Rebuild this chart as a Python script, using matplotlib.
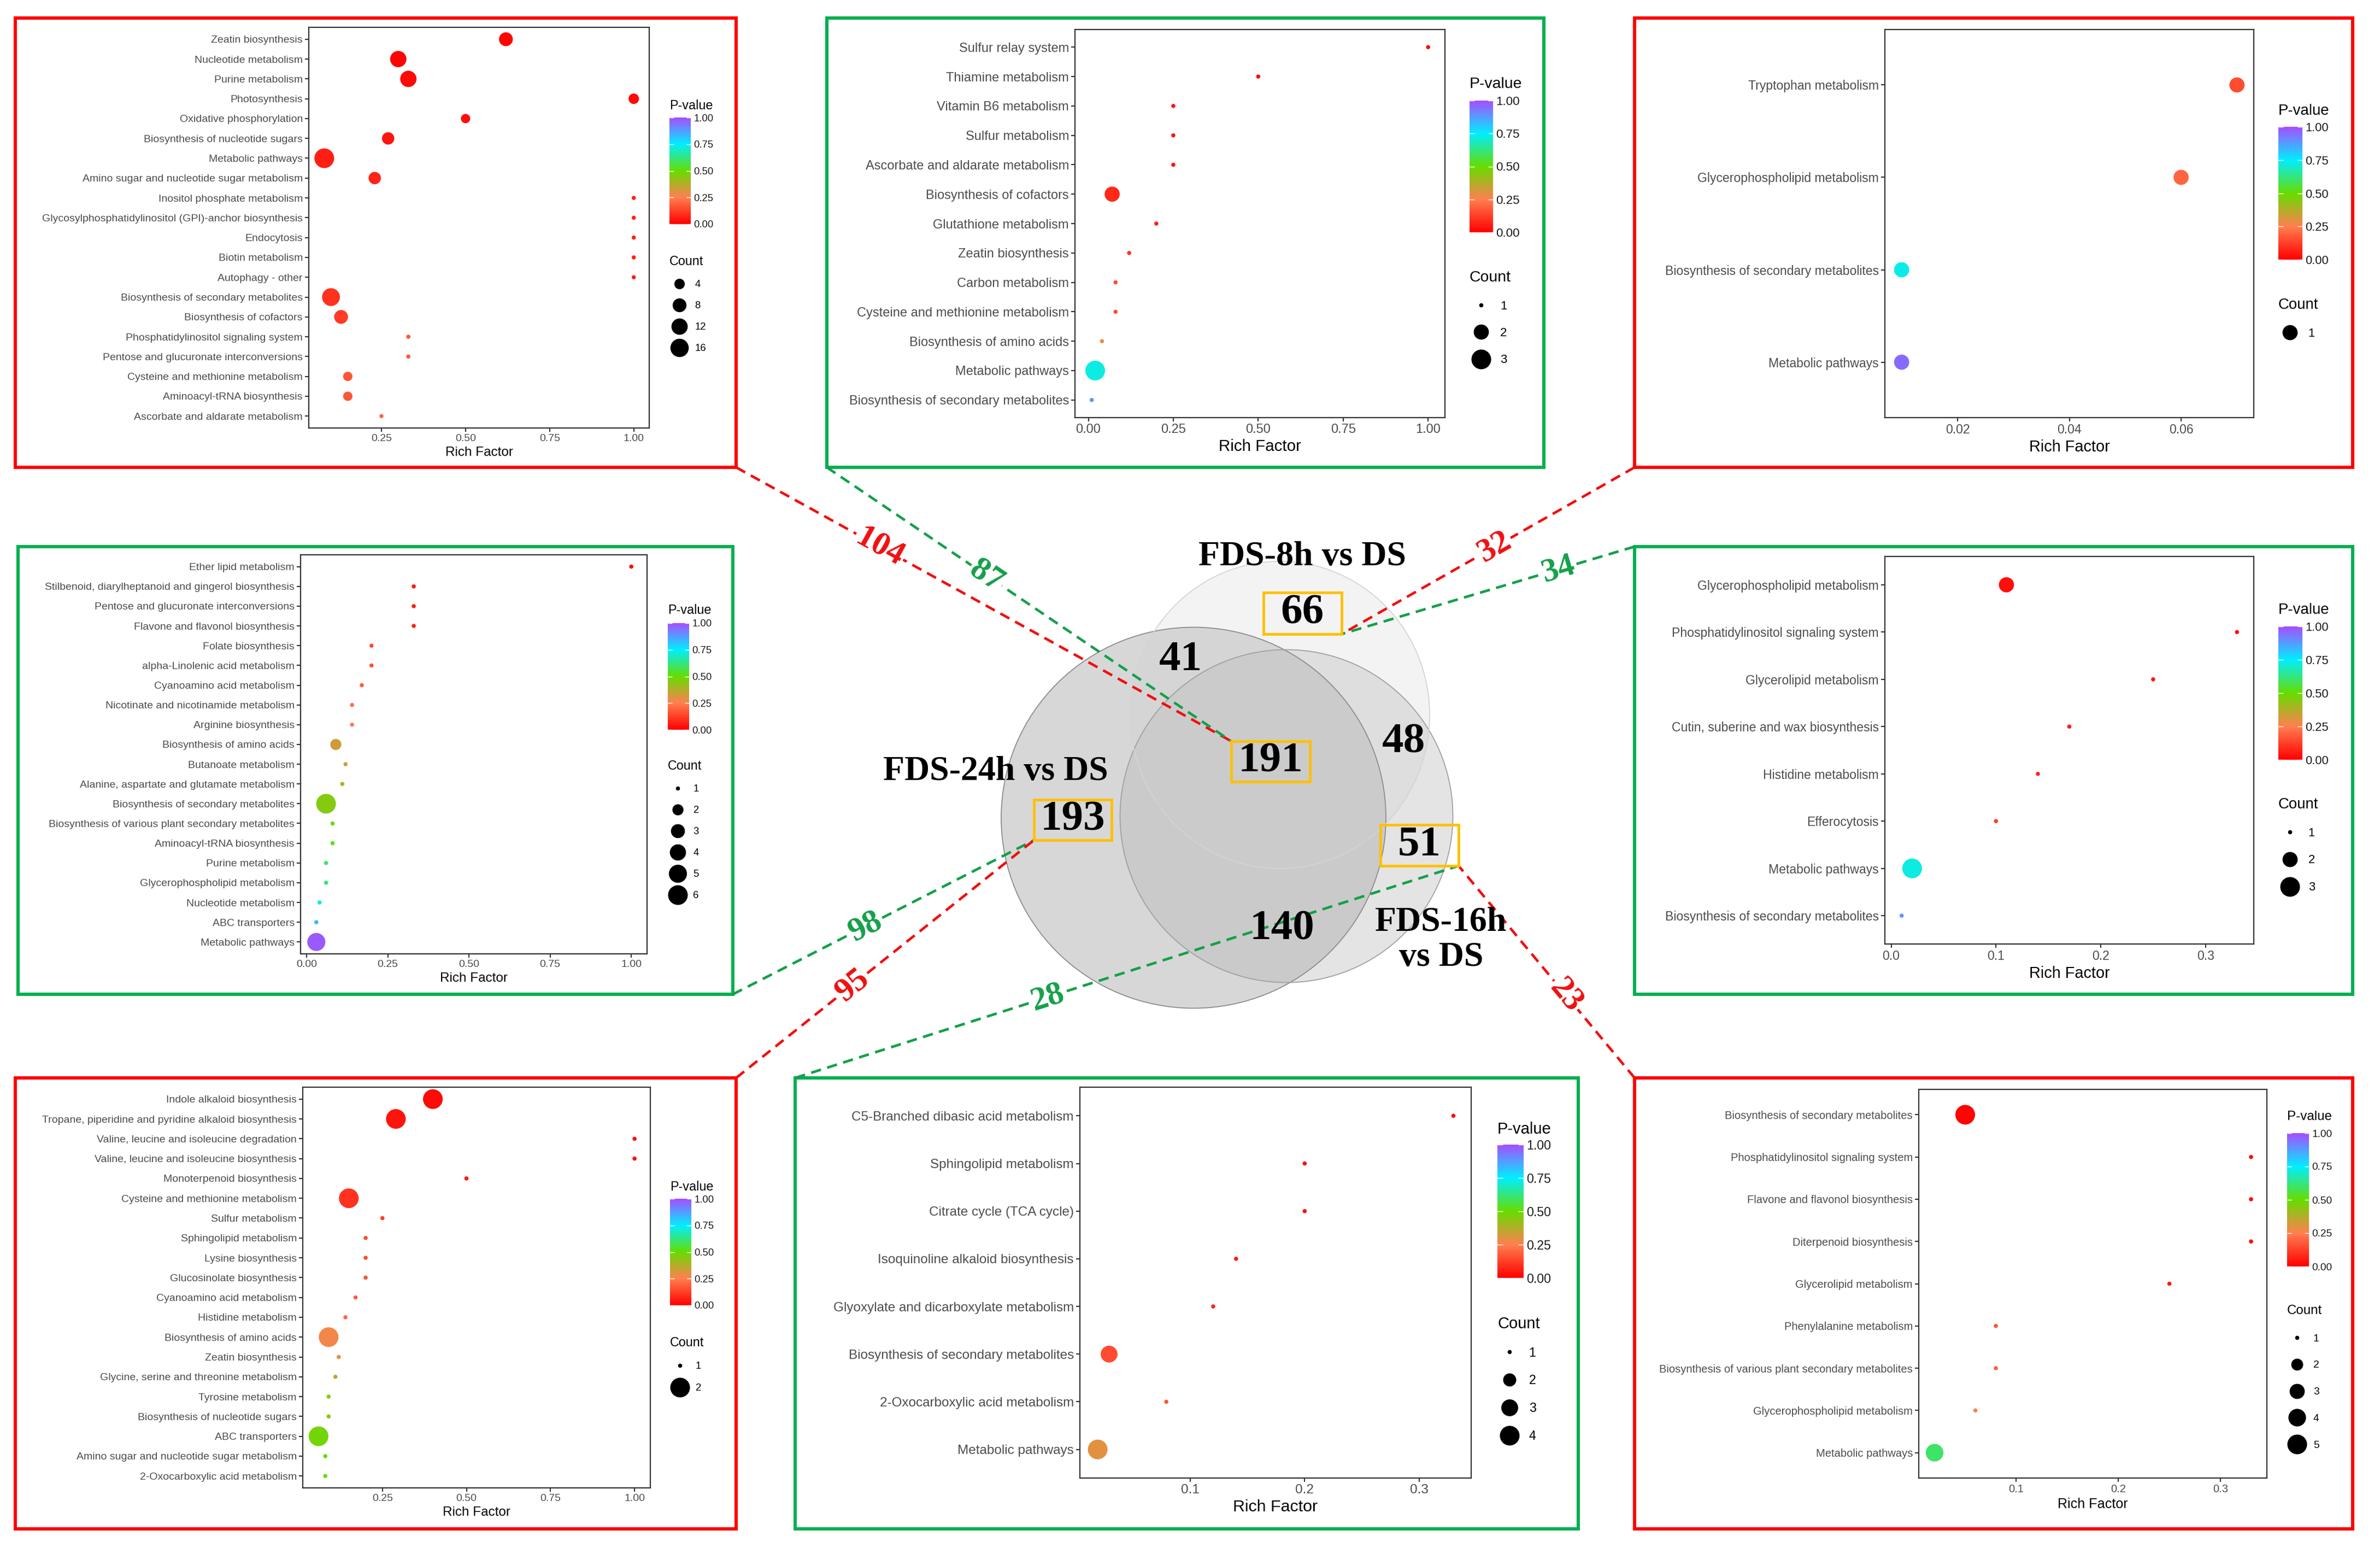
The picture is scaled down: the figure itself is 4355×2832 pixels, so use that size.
import numpy as np
import matplotlib
matplotlib.use("Agg")
import matplotlib.pyplot as plt
from matplotlib.cm import ScalarMappable
from matplotlib.colors import LinearSegmentedColormap, Normalize
from matplotlib.lines import Line2D
from matplotlib.patches import Ellipse, Rectangle
from matplotlib.ticker import FormatStrFormatter, MultipleLocator

W, H, DPI = 4355, 2832, 100
RED, GREEN, GOLD = "#ff0000", "#00b050", "#ffc000"
LINK_RED, LINK_GREEN = "#f01010", "#15a04a"

plt.rcParams["font.family"] = ["Liberation Sans", "DejaVu Sans"]

# ---------------- data ----------------
p1_terms = ["Zeatin biosynthesis", "Nucleotide metabolism", "Purine metabolism", "Photosynthesis",
            "Oxidative phosphorylation", "Biosynthesis of nucleotide sugars", "Metabolic pathways",
            "Amino sugar and nucleotide sugar metabolism", "Inositol phosphate metabolism",
            "Glycosylphosphatidylinositol (GPI)-anchor biosynthesis", "Endocytosis", "Biotin metabolism",
            "Autophagy - other", "Biosynthesis of secondary metabolites", "Biosynthesis of cofactors",
            "Phosphatidylinositol signaling system", "Pentose and glucuronate interconversions",
            "Cysteine and methionine metabolism", "Aminoacyl-tRNA biosynthesis",
            "Ascorbate and aldarate metabolism"]
p1_rich = [0.62, 0.30, 0.33, 1.0, 0.50, 0.27, 0.08, 0.23, 1.0, 1.0, 1.0, 1.0, 1.0, 0.10, 0.13,
           0.33, 0.33, 0.15, 0.15, 0.25]
p1_count = [8, 12, 12, 4, 3, 6, 19, 6, 1, 1, 1, 1, 1, 15, 8, 1, 1, 3, 3, 1]
p1_pval = [0.01, 0.01, 0.02, 0.02, 0.03, 0.04, 0.06, 0.07, 0.07, 0.07, 0.07, 0.07, 0.07, 0.10,
           0.12, 0.17, 0.17, 0.17, 0.17, 0.20]
p1_breaks = [4, 8, 12, 16]

p2_terms = ["Sulfur relay system", "Thiamine metabolism", "Vitamin B6 metabolism", "Sulfur metabolism",
            "Ascorbate and aldarate metabolism", "Biosynthesis of cofactors", "Glutathione metabolism",
            "Zeatin biosynthesis", "Carbon metabolism", "Cysteine and methionine metabolism",
            "Biosynthesis of amino acids", "Metabolic pathways", "Biosynthesis of secondary metabolites"]
p2_rich = [1.0, 0.50, 0.25, 0.25, 0.25, 0.07, 0.20, 0.12, 0.08, 0.08, 0.04, 0.02, 0.01]
p2_count = [1, 1, 1, 1, 1, 2, 1, 1, 1, 1, 1, 3, 1]
p2_pval = [0.02, 0.03, 0.04, 0.04, 0.04, 0.08, 0.06, 0.10, 0.15, 0.15, 0.30, 0.72, 0.88]
p2_breaks = [1, 2, 3]

p3_terms = ["Tryptophan metabolism", "Glycerophospholipid metabolism",
            "Biosynthesis of secondary metabolites", "Metabolic pathways"]
p3_rich = [0.070, 0.060, 0.010, 0.010]
p3_count = [1, 1, 1, 1]
p3_pval = [0.15, 0.20, 0.73, 0.95]
p3_breaks = [1]

p4_terms = ["Ether lipid metabolism", "Stilbenoid, diarylheptanoid and gingerol biosynthesis",
            "Pentose and glucuronate interconversions", "Flavone and flavonol biosynthesis",
            "Folate biosynthesis", "alpha-Linolenic acid metabolism", "Cyanoamino acid metabolism",
            "Nicotinate and nicotinamide metabolism", "Arginine biosynthesis",
            "Biosynthesis of amino acids", "Butanoate metabolism",
            "Alanine, aspartate and glutamate metabolism", "Biosynthesis of secondary metabolites",
            "Biosynthesis of various plant secondary metabolites", "Aminoacyl-tRNA biosynthesis",
            "Purine metabolism", "Glycerophospholipid metabolism", "Nucleotide metabolism",
            "ABC transporters", "Metabolic pathways"]
p4_rich = [1.0, 0.33, 0.33, 0.33, 0.20, 0.20, 0.17, 0.14, 0.14, 0.09, 0.12, 0.11, 0.06, 0.08,
           0.08, 0.06, 0.06, 0.04, 0.03, 0.03]
p4_count = [1, 1, 1, 1, 1, 1, 1, 1, 1, 2, 1, 1, 6, 1, 1, 1, 1, 1, 1, 5]
p4_pval = [0.02, 0.05, 0.06, 0.07, 0.15, 0.16, 0.18, 0.22, 0.24, 0.33, 0.33, 0.38, 0.45, 0.52,
           0.53, 0.60, 0.62, 0.72, 0.83, 0.98]
p4_breaks = [1, 2, 3, 4, 5, 6]

p5_terms = ["Glycerophospholipid metabolism", "Phosphatidylinositol signaling system",
            "Glycerolipid metabolism", "Cutin, suberine and wax biosynthesis", "Histidine metabolism",
            "Efferocytosis", "Metabolic pathways", "Biosynthesis of secondary metabolites"]
p5_rich = [0.11, 0.33, 0.25, 0.17, 0.14, 0.10, 0.02, 0.01]
p5_count = [2, 1, 1, 1, 1, 1, 3, 1]
p5_pval = [0.03, 0.03, 0.04, 0.06, 0.08, 0.12, 0.72, 0.88]
p5_breaks = [1, 2, 3]

p6_terms = ["Indole alkaloid biosynthesis", "Tropane, piperidine and pyridine alkaloid biosynthesis",
            "Valine, leucine and isoleucine degradation", "Valine, leucine and isoleucine biosynthesis",
            "Monoterpenoid biosynthesis", "Cysteine and methionine metabolism", "Sulfur metabolism",
            "Sphingolipid metabolism", "Lysine biosynthesis", "Glucosinolate biosynthesis",
            "Cyanoamino acid metabolism", "Histidine metabolism", "Biosynthesis of amino acids",
            "Zeatin biosynthesis", "Glycine, serine and threonine metabolism", "Tyrosine metabolism",
            "Biosynthesis of nucleotide sugars", "ABC transporters",
            "Amino sugar and nucleotide sugar metabolism", "2-Oxocarboxylic acid metabolism"]
p6_rich = [0.40, 0.29, 1.0, 1.0, 0.50, 0.15, 0.25, 0.20, 0.20, 0.20, 0.17, 0.14, 0.09, 0.12,
           0.11, 0.09, 0.09, 0.06, 0.08, 0.08]
p6_count = [2, 2, 1, 1, 1, 2, 1, 1, 1, 1, 1, 1, 2, 1, 1, 1, 1, 2, 1, 1]
p6_pval = [0.02, 0.04, 0.03, 0.03, 0.05, 0.10, 0.12, 0.15, 0.15, 0.16, 0.18, 0.20, 0.27, 0.30,
           0.35, 0.45, 0.45, 0.48, 0.50, 0.50]
p6_breaks = [1, 2]

p7_terms = ["C5-Branched dibasic acid metabolism", "Sphingolipid metabolism",
            "Citrate cycle (TCA cycle)", "Isoquinoline alkaloid biosynthesis",
            "Glyoxylate and dicarboxylate metabolism", "Biosynthesis of secondary metabolites",
            "2-Oxocarboxylic acid metabolism", "Metabolic pathways"]
p7_rich = [0.33, 0.20, 0.20, 0.14, 0.12, 0.029, 0.079, 0.019]
p7_count = [1, 1, 1, 1, 1, 3, 1, 4]
p7_pval = [0.02, 0.03, 0.03, 0.05, 0.07, 0.15, 0.17, 0.30]
p7_breaks = [1, 2, 3, 4]

p8_terms = ["Biosynthesis of secondary metabolites", "Phosphatidylinositol signaling system",
            "Flavone and flavonol biosynthesis", "Diterpenoid biosynthesis", "Glycerolipid metabolism",
            "Phenylalanine metabolism", "Biosynthesis of various plant secondary metabolites",
            "Glycerophospholipid metabolism", "Metabolic pathways"]
p8_rich = [0.05, 0.33, 0.33, 0.33, 0.25, 0.08, 0.08, 0.06, 0.02]
p8_count = [5, 1, 1, 1, 1, 1, 1, 1, 4]
p8_pval = [0.01, 0.02, 0.02, 0.03, 0.05, 0.17, 0.18, 0.27, 0.60]
p8_breaks = [1, 2, 3, 4, 5]

venn_sets = ["FDS-8h vs DS", "FDS-24h vs DS", "FDS-16h\nvs DS"]
venn_regions = ["8h", "8h&24h", "all", "8h&16h", "24h", "16h", "24h&16h"]
venn_values = [66, 41, 191, 48, 193, 51, 140]
link_values = [104, 87, 32, 34, 98, 95, 28, 23]

# ---------------- layout (page pixels) ----------------
PANELS = [
    dict(data=(p1_terms, p1_rich, p1_count, p1_pval, p1_breaks), box=(28, 33, 1347, 855), edge=RED,
         ax=(565, 50, 1188, 783), cbar=(1225, 215, 1264, 410), ptitle=193, ctitle=473, pitch=39,
         fs=14, step=0.25, fmt="%.2f"),
    dict(data=(p2_terms, p2_rich, p2_count, p2_pval, p2_breaks), box=(1513, 33, 2825, 855), edge=GREEN,
         ax=(1967, 54, 2644, 764), cbar=(2689, 184, 2732, 425), ptitle=154, ctitle=504, pitch=49,
         fs=17, step=0.25, fmt="%.2f"),
    dict(data=(p3_terms, p3_rich, p3_count, p3_pval, p3_breaks), box=(2991, 33, 4305, 855), edge=RED,
         ax=(3449, 54, 4124, 764), cbar=(4169, 232, 4213, 475), ptitle=203, ctitle=553, pitch=49,
         fs=16.6, step=0.02, fmt="%.2f"),
    dict(data=(p4_terms, p4_rich, p4_count, p4_pval, p4_breaks), box=(33, 1000, 1341, 1819), edge=GREEN,
         ax=(550, 1015, 1184, 1745), cbar=(1222, 1140, 1261, 1335), ptitle=1116, ctitle=1396, pitch=39,
         fs=14, step=0.25, fmt="%.2f"),
    dict(data=(p5_terms, p5_rich, p5_count, p5_pval, p5_breaks), box=(2991, 1000, 4305, 1819), edge=GREEN,
         ax=(3449, 1018, 4124, 1727), cbar=(4169, 1146, 4213, 1390), ptitle=1116, ctitle=1467, pitch=49,
         fs=16.6, step=0.1, fmt="%.1f"),
    dict(data=(p6_terms, p6_rich, p6_count, p6_pval, p6_breaks), box=(28, 1972, 1347, 2797), edge=RED,
         ax=(554, 1989, 1190, 2722), cbar=(1226, 2193, 1265, 2388), ptitle=2171, ctitle=2451, pitch=40,
         fs=14, step=0.25, fmt="%.2f"),
    dict(data=(p7_terms, p7_rich, p7_count, p7_pval, p7_breaks), box=(1455, 1972, 2888, 2797), edge=GREEN,
         ax=(1976, 1989, 2692, 2704), cbar=(2740, 2094, 2788, 2338), ptitle=2066, ctitle=2417, pitch=49,
         fs=17.5, step=0.1, fmt="%.1f"),
    dict(data=(p8_terms, p8_rich, p8_count, p8_pval, p8_breaks), box=(2991, 1972, 4305, 2797), edge=RED,
         ax=(3511, 1993, 4148, 2704), cbar=(4185, 2073, 4225, 2317), ptitle=2043, ctitle=2393, pitch=49,
         fs=14.5, step=0.1, fmt="%.1f"),
]

CMAP = LinearSegmentedColormap.from_list(
    "pval", [(0, "#ff0000"), (0.25, "#ff7f50"), (0.5, "#66dd00"), (0.75, "#00eeff"), (1, "#a64dff")])
NORM = Normalize(0, 1)


def fig_rect(x0, y0, x1, y1):
    return [x0 / W, 1 - y1 / H, (x1 - x0) / W, (y1 - y0) / H]


def dot_points(counts, lo, hi):
    counts = np.asarray(counts, float)
    frac = (counts - lo) / (hi - lo) if hi > lo else np.full_like(counts, 0.5)
    gg = 1 + 5 * np.sqrt(frac)              # ggplot2 size scale, range 1-6
    px = (gg * 2.845 + 0.945) * 2.0         # diameter on the page
    return px * 72 / DPI


def draw_panel(fig, p):
    terms, rich, count, pval, breaks = p["data"]
    fs = p["fs"]
    n = len(terms)
    ypos = np.arange(n, 0, -1)
    lo, hi = min(count), max(count)

    ax = fig.add_axes(fig_rect(*p["ax"]), zorder=2)
    ax.scatter(rich, ypos, s=dot_points(count, lo, hi) ** 2, c=pval, cmap=CMAP, norm=NORM,
               edgecolors="none", zorder=3)
    ax.set_ylim(0.4, n + 0.6)
    ax.margins(x=0.05)
    ax.set_yticks(ypos)
    ax.set_yticklabels(terms)
    ax.xaxis.set_major_locator(MultipleLocator(p["step"]))
    ax.xaxis.set_major_formatter(FormatStrFormatter(p["fmt"]))
    ax.tick_params(axis="both", direction="out", length=5, width=1.5, color="#333333",
                   labelcolor="#4d4d4d", labelsize=fs, pad=3)
    for s in ax.spines.values():
        s.set_color("#333333")
        s.set_linewidth(1.6)
    ax.set_xlabel("Rich Factor", fontsize=fs * 1.25, labelpad=4)

    # colour bar
    cx0, cy0, cx1, cy1 = p["cbar"]
    cax = fig.add_axes(fig_rect(cx0, cy0, cx1, cy1), zorder=2)
    cb = fig.colorbar(ScalarMappable(norm=NORM, cmap=CMAP), cax=cax, ticks=[0, 0.25, 0.5, 0.75, 1])
    cb.ax.set_yticklabels(["0.00", "0.25", "0.50", "0.75", "1.00"])
    cb.outline.set_visible(False)
    cax.tick_params(axis="y", direction="in", length=(cx1 - cx0) * 0.2 * 72 / DPI, width=1,
                    color="white", left=True, right=True, labelsize=fs * 0.95,
                    labelcolor="#1a1a1a", pad=4)
    fig.text(cx0 / W, 1 - p["ptitle"] / H, "P-value", fontsize=fs * 1.2, ha="left", va="center")

    # size legend
    fs_px = fs * DPI / 72
    lfs_px = fs_px * 0.95
    handles = [Line2D([], [], marker="o", linestyle="", color="black", markeredgewidth=0,
                      markersize=d) for d in dot_points(breaks, lo, hi)]
    fig.legend(handles, [str(b) for b in breaks], title="Count", loc="upper left",
               bbox_to_anchor=(cx0 / W, 1 - (p["ctitle"] - fs_px * 0.75 + 9) / H),
               frameon=False, fontsize=fs * 0.95, title_fontsize=fs * 1.2,
               alignment="left", borderpad=0, borderaxespad=0, handlelength=1.9,
               handletextpad=0.6, labelspacing=(p["pitch"] - 0.92 * lfs_px) / lfs_px)
    return ax


fig = plt.figure(figsize=(W / DPI, H / DPI), dpi=DPI)
bg = fig.add_axes([0, 0, 1, 1], zorder=0)
bg.set_xlim(0, W)
bg.set_ylim(H, 0)
bg.axis("off")

for p in PANELS:
    x0, y0, x1, y1 = p["box"]
    bg.add_patch(Rectangle((x0, y0), x1 - x0, y1 - y0, fill=False, ec=p["edge"], lw=4.3))
    draw_panel(fig, p)

# ---------------- Venn diagram ----------------
bg.add_patch(Ellipse((2184, 1496), 704, 697, fc="#a8a8a8", alpha=0.45, ec="none", zorder=1))
bg.add_patch(Ellipse((2354, 1493), 609, 609, fc="#b4b4b4", alpha=0.35, ec="none", zorder=1))
bg.add_patch(Ellipse((2342, 1308), 548, 562, fc="#d0d0d0", alpha=0.25, ec="none", zorder=1))
bg.add_patch(Ellipse((2184, 1496), 704, 697, fill=False, ec="#8c8c8c", lw=1.3, zorder=1))
bg.add_patch(Ellipse((2354, 1493), 609, 609, fill=False, ec="#a0a0a0", lw=1.3, zorder=1))
bg.add_patch(Ellipse((2342, 1308), 548, 562, fill=False, ec="#d4d4d4", lw=1.3, zorder=1))

serif = dict(family=["Liberation Serif", "DejaVu Serif"], fontweight="bold")
set_pos = [(2383, 1019), (1822, 1412), (2637, 1720)]
for name, (x, y) in zip(venn_sets, set_pos):
    bg.text(x, y, name, fontsize=46, ha="center", va="center", linespacing=1.15, zorder=5, **serif)

region_pos = [(2383, 1122), (2160, 1207), (2325, 1393), (2568, 1358), (1963, 1500), (2597, 1546),
              (2346, 1700)]
boxed = {"8h": (2312, 1084, 2455, 1160), "all": (2253, 1356, 2397, 1430),
         "24h": (1892, 1463, 2034, 1537), "16h": (2526, 1509, 2669, 1584)}
for reg, val, (x, y) in zip(venn_regions, venn_values, region_pos):
    bg.text(x, y, str(val), fontsize=57, ha="center", va="center", zorder=5, **serif)
    if reg in boxed:
        bx0, by0, bx1, by1 = boxed[reg]
        bg.add_patch(Rectangle((bx0, by0), bx1 - bx0, by1 - by0, fill=False, ec=GOLD, lw=3.5, zorder=6))

# dashed links: panel corner -> venn box corner, label position along the line
links = [
    ((1347, 855), (2253, 1356), LINK_RED, 0.29),
    ((1513, 855), (2253, 1356), LINK_GREEN, 0.395),
    ((2991, 855), (2455, 1160), LINK_RED, 0.478),
    ((2991, 1000), (2455, 1160), LINK_GREEN, 0.26),
    ((1341, 1819), (1892, 1537), LINK_GREEN, 0.44),
    ((1347, 1972), (1892, 1537), LINK_RED, 0.39),
    ((1455, 1972), (2669, 1584), LINK_GREEN, 0.38),
    ((2991, 1972), (2669, 1584), LINK_RED, 0.39),
]
for val, ((xa, ya), (xb, yb), col, t) in zip(link_values, links):
    bg.plot([xa, xb], [ya, yb], color=col, lw=3.4, linestyle=(0, (4, 2.5)), zorder=4)
    ang = np.degrees(np.arctan2(-(yb - ya), xb - xa))
    if ang > 90:
        ang -= 180
    elif ang < -90:
        ang += 180
    bg.text(xa + t * (xb - xa), ya + t * (yb - ya), str(val), rotation=ang, rotation_mode="anchor",
            ha="center", va="center", fontsize=44, color=col, zorder=7,
            bbox=dict(fc="white", ec="none", pad=2), **serif)

fig.savefig("out.png", dpi=DPI)
